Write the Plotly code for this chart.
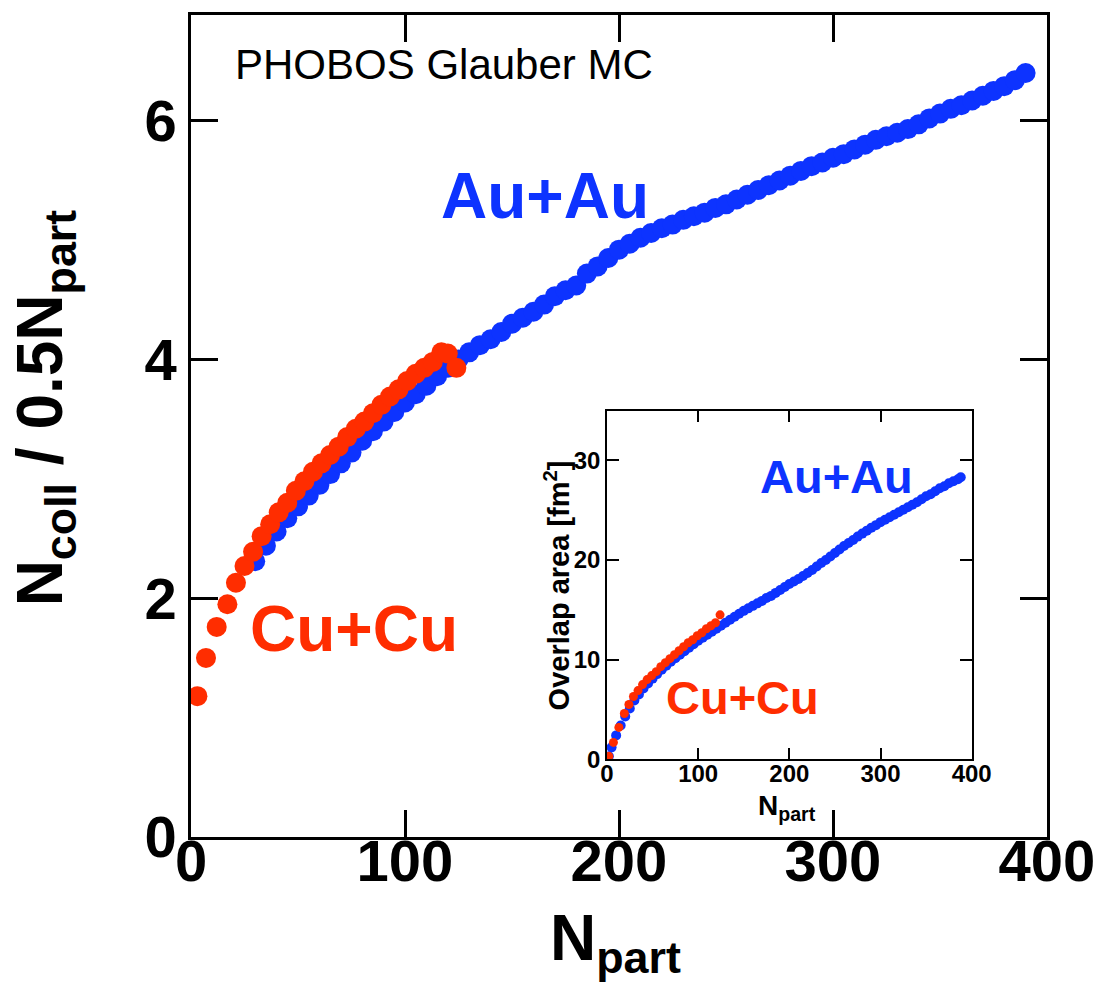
import plotly.graph_objects as go

# ---------------- data ----------------
# Main panel: Ncoll / 0.5 Npart vs Npart
au_npart = [30, 35, 40, 45, 50, 55, 60, 65, 70, 75, 80, 85, 90, 95,
            100, 105, 110, 115, 120, 125, 130, 135, 140, 145, 150, 155, 160, 165, 170, 175,
            180, 185, 190, 195, 200, 205, 210, 215, 220, 225, 230, 235, 240, 245, 250, 255,
            260, 265, 270, 275, 280, 285, 290, 295, 300, 305, 310, 315, 320, 325, 330, 335,
            340, 345, 350, 355, 360, 365, 370, 375, 380, 385, 390]
au_ratio = [2.31, 2.44, 2.56, 2.67, 2.77, 2.86, 2.95, 3.04,
            3.13, 3.22, 3.32, 3.40, 3.48, 3.56, 3.64, 3.71, 3.78, 3.86, 3.93, 4.00, 4.06, 4.12,
            4.17, 4.23, 4.30, 4.35, 4.40, 4.46, 4.53, 4.58, 4.62, 4.72, 4.78, 4.85, 4.92, 4.97,
            5.02, 5.06, 5.10, 5.13, 5.17, 5.20, 5.23, 5.27, 5.30, 5.34, 5.38, 5.42, 5.46, 5.50,
            5.54, 5.58, 5.62, 5.65, 5.69, 5.72, 5.76, 5.80, 5.84, 5.87, 5.90, 5.93, 5.97, 6.02,
            6.06, 6.10, 6.13, 6.17, 6.21, 6.25, 6.29, 6.34, 6.40]

cu_npart = [3, 7, 12, 17, 21, 25, 29, 33, 37, 41, 45, 49, 53, 57, 61, 65, 69, 73, 77, 81,
            85, 89, 93, 97, 101, 105, 109, 113, 117, 120, 124]
cu_ratio = [1.18, 1.50, 1.76, 1.95, 2.13, 2.27, 2.39, 2.52, 2.62, 2.72, 2.80, 2.90, 2.98, 3.06,
            3.13, 3.20, 3.27, 3.35, 3.42, 3.48, 3.55, 3.62, 3.69, 3.75, 3.82, 3.88, 3.93, 3.98,
            4.06, 4.05, 3.93]

# Inset: overlap area [fm^2] vs Npart
au_npart_in = [2, 5, 10, 15, 20, 25, 30, 35, 40, 45, 50, 55, 60, 65, 70, 75, 80, 85, 90, 95,
               100, 105, 110, 115, 120, 125, 130, 135, 140, 145, 150, 155, 160, 165, 170, 175,
               180, 185, 190, 195, 200, 205, 210, 215, 220, 225, 230, 235, 240, 245, 250, 255,
               260, 265, 270, 275, 280, 285, 290, 295, 300, 305, 310, 315, 320, 325, 330, 335,
               340, 345, 350, 355, 360, 365, 370, 375, 380, 385, 388]
au_area_in = [0.3, 1.2, 2.4, 3.4, 4.3, 5.1, 5.9, 6.5, 7.1, 7.6, 8.1, 8.55, 9.0, 9.4, 9.8, 10.15,
              10.5, 10.85, 11.2, 11.55, 11.9, 12.2, 12.5, 12.8, 13.1, 13.4, 13.7, 14.0, 14.3,
              14.6, 14.9, 15.15, 15.4, 15.65, 15.9, 16.2, 16.4, 16.7, 17.0, 17.3, 17.6, 17.85,
              18.1, 18.4, 18.7, 19.0, 19.35, 19.7, 20.0, 20.35, 20.7, 21.05, 21.4, 21.7, 22.0,
              22.35, 22.65, 22.95, 23.25, 23.5, 23.8, 24.05, 24.3, 24.55, 24.8, 25.05, 25.3,
              25.55, 25.8, 26.1, 26.4, 26.6, 26.9, 27.2, 27.4, 27.7, 27.9, 28.1, 28.3]

cu_npart_in = [2, 7, 13, 19, 24, 29, 34, 39, 44, 49, 54, 59, 64, 69, 74, 79, 84, 89, 94, 99,
               104, 109, 114, 119, 124]
cu_area_in = [0.3, 1.7, 3.2, 4.6, 5.5, 6.3, 6.9, 7.5, 8.0, 8.4, 8.8, 9.3, 9.7, 10.1, 10.5, 10.9,
              11.3, 11.7, 12.0, 12.4, 12.7, 13.1, 13.4, 13.7, 14.5]

main_xticks = [0, 100, 200, 300, 400]
main_yticks = [0, 2, 4, 6]
inset_xticks = [0, 100, 200, 300, 400]
inset_yticks = [0, 10, 20, 30]

BLUE = "#0d33ff"
RED = "#ff2d00"
FONT = "Liberation Sans, Arial, sans-serif"

fig = go.Figure()
fig.add_trace(go.Scatter(x=au_npart, y=au_ratio, mode="markers",
                         marker=dict(color=BLUE, size=20, line=dict(width=0)),
                         xaxis="x", yaxis="y", hoverinfo="skip"))
fig.add_trace(go.Scatter(x=cu_npart, y=cu_ratio, mode="markers",
                         marker=dict(color=RED, size=20, line=dict(width=0)),
                         xaxis="x", yaxis="y", hoverinfo="skip"))
fig.add_trace(go.Scatter(x=au_npart_in, y=au_area_in, mode="markers",
                         marker=dict(color=BLUE, size=10, line=dict(width=0)),
                         xaxis="x2", yaxis="y2", hoverinfo="skip"))
fig.add_trace(go.Scatter(x=cu_npart_in, y=cu_area_in, mode="markers",
                         marker=dict(color=RED, size=9, line=dict(width=0)),
                         xaxis="x2", yaxis="y2", hoverinfo="skip"))

main_ax = dict(showgrid=False, zeroline=False, showline=True, linecolor="black", linewidth=2.5,
               mirror="ticks", ticks="inside", ticklen=27, tickwidth=2.5, tickcolor="black",
               tickfont=dict(family=FONT, size=58, color="black", weight="bold"))
inset_ax = dict(showgrid=False, zeroline=False, showline=True, linecolor="black", linewidth=1.5,
                mirror="ticks", ticks="inside", ticklen=12, tickwidth=1.5, tickcolor="black",
                tickfont=dict(family=FONT, size=24, color="black", weight="bold"))

fig.update_layout(
    width=1107, height=997,
    margin=dict(l=191, r=52, t=12, b=160),
    paper_bgcolor="white", plot_bgcolor="white",
    showlegend=False,
    xaxis=dict(domain=[0, 1], range=[0, 400], tickvals=main_xticks, anchor="y",
               ticklabelstandoff=-28, **main_ax),
    yaxis=dict(domain=[0, 1], range=[0, 6.886], tickvals=main_yticks, anchor="x", **main_ax),
    xaxis2=dict(domain=[0.486, 0.912], range=[0, 400], tickvals=inset_xticks, anchor="y2",
                ticklabelstandoff=-8, **inset_ax),
    yaxis2=dict(domain=[0.0945, 0.5188], range=[0, 35], tickvals=inset_yticks, anchor="x2",
                **inset_ax),
)

ann = [
    dict(text="PHOBOS Glauber MC", x=0.0486, y=0.940, xanchor="left", yanchor="middle",
         font=dict(family=FONT, size=42, color="black")),
    dict(text="Au+Au", x=0.4132, y=0.780, xanchor="center", yanchor="middle",
         font=dict(family=FONT, size=64, color=BLUE, weight="bold")),
    dict(text="Cu+Cu", x=0.191, y=0.2533, xanchor="center", yanchor="middle",
         font=dict(family=FONT, size=64, color=RED, weight="bold")),
    dict(text="Au+Au", x=0.7546, y=0.4388, xanchor="center", yanchor="middle",
         font=dict(family=FONT, size=47, color=BLUE, weight="bold")),
    dict(text="Cu+Cu", x=0.6447, y=0.1697, xanchor="center", yanchor="middle",
         font=dict(family=FONT, size=47, color=RED, weight="bold")),
    dict(text="Overlap area [fm<sup>2</sup>]", x=0.427, y=0.3055, xanchor="center",
         yanchor="middle", textangle=-90,
         font=dict(family=FONT, size=29, color="black", weight="bold")),
    dict(text="N<sub>part</sub>", x=0.6968, y=0.0357, xanchor="center", yanchor="middle",
         font=dict(family=FONT, size=28, color="black", weight="bold")),
    dict(text="N<sub>part</sub>", x=0.4954, y=-0.128, xanchor="center", yanchor="middle",
         font=dict(family=FONT, size=64, color="black", weight="bold")),
    dict(text="N<sub>coll</sub> / 0.5N<sub>part</sub>", x=-0.172, y=0.5224,
         xanchor="center", yanchor="middle", textangle=-90,
         font=dict(family=FONT, size=64, color="black", weight="bold")),
]
for a in ann:
    a.update(xref="paper", yref="paper", showarrow=False)
fig.update_layout(annotations=ann)

fig.write_html("out.html")
